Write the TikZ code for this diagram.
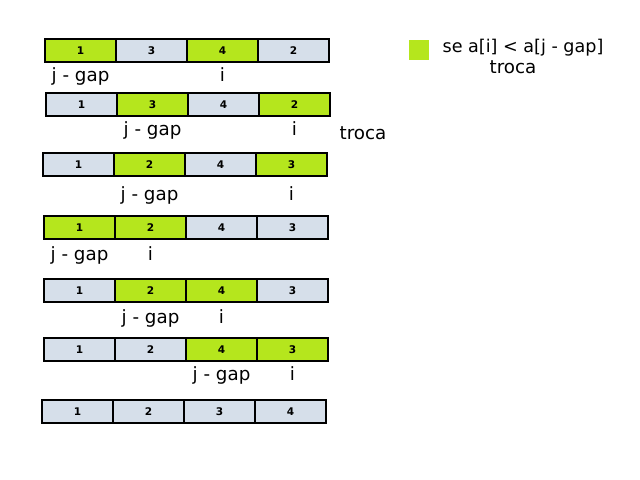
\documentclass[tikz,border=0pt]{standalone}
\usepackage{fontspec}
\setmainfont{DejaVu Sans}
\usepackage{xcolor}
\usepackage{tikz}
\usetikzlibrary{positioning}
\definecolor{hitGreen}{HTML}{B5E61D}
\definecolor{cellBlue}{HTML}{D6DFEA}

\begin{document}
\begin{tikzpicture}[x=0.025cm, y=-0.025cm,
    cell/.style={draw=black, line width=1.4pt, anchor=north west, inner sep=0pt, outer sep=0pt,
        minimum width=1.775cm, minimum height=0.58cm, font=\fontsize{7.5}{8}\selectfont\bfseries},
    lbl/.style={inner sep=0pt, font=\fontsize{13}{15}\selectfont, text height=10pt, text depth=3pt}]
    \useasboundingbox (0,0) rectangle (640,480);
    % rows of the array, one per step
    \foreach \r/\x/\y/\cells in {
        1/45/39/{1/hitGreen,3/cellBlue,4/hitGreen,2/cellBlue},
        2/46/93/{1/cellBlue,3/hitGreen,4/cellBlue,2/hitGreen},
        3/43/153/{1/cellBlue,2/hitGreen,4/cellBlue,3/hitGreen},
        4/44/216/{1/hitGreen,2/hitGreen,4/cellBlue,3/cellBlue},
        5/44/279/{1/cellBlue,2/hitGreen,4/hitGreen,3/cellBlue},
        6/44/338/{1/cellBlue,2/cellBlue,4/hitGreen,3/hitGreen},
        7/42/400/{1/cellBlue,2/cellBlue,3/cellBlue,4/cellBlue}}
        \foreach \v/\c [count=\k] in \cells
            \node[cell, fill=\c] (r\r c\k) at (\x+71*\k-71, \y) {\v};
    % indices
    \node[lbl, below=0.12cm of r1c1] {j - gap};
    \node[lbl, below=0.12cm of r1c3] {i};
    \node[lbl, below=0.12cm of r2c2] {j - gap};
    \node[lbl, below=0.12cm of r2c4] {i};
    \node[lbl, below=0.25cm of r3c2] {j - gap};
    \node[lbl, below=0.25cm of r3c4] {i};
    \node[lbl, below=0.18cm of r4c1] {j - gap};
    \node[lbl, below=0.18cm of r4c2] {i};
    \node[lbl, below=0.18cm of r5c2] {j - gap};
    \node[lbl, below=0.18cm of r5c3] {i};
    \node[lbl, below=0.13cm of r6c3] {j - gap};
    \node[lbl, below=0.13cm of r6c4] {i};
    \node[lbl] (swap) at (363,135) {troca};
    % legend
    \node[fill=hitGreen, minimum size=0.5cm, inner sep=0pt] (key) at (419,50) {};
    \node[lbl, font=\fontsize{12.5}{15}\selectfont] (rule) at (523,48) {se a[i] < a[j - gap]};
    \node[lbl, below=0.05cm of rule, xshift=-0.25cm] (ruleswap) {troca};
\end{tikzpicture}
\end{document}
